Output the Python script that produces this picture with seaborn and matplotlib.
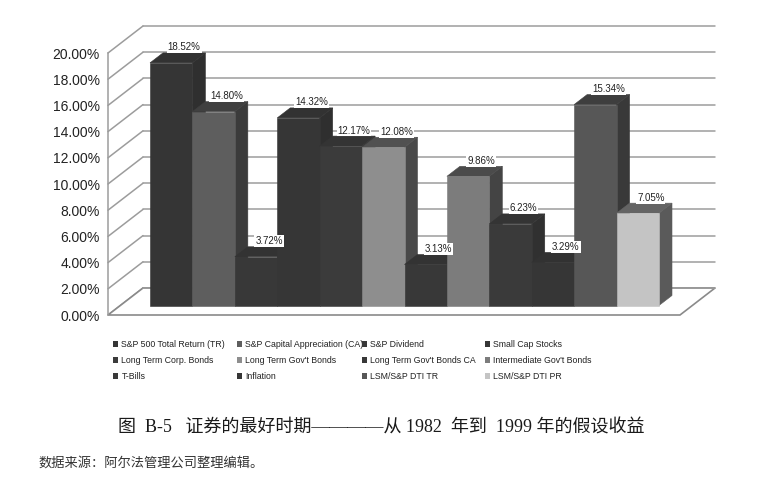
import numpy as np
import pandas as pd
import matplotlib
matplotlib.use("Agg")
import matplotlib.pyplot as plt
import matplotlib.transforms as mtrans
from matplotlib.patches import Polygon, Patch
from matplotlib import font_manager as fm
import seaborn as sns

# ---------------- data ----------------
series = [
    "S&P 500 Total Return (TR)", "S&P Capital Appreciation (CA)", "S&P Dividend",
    "Small Cap Stocks", "Long Term Corp. Bonds", "Long Term Gov't Bonds",
    "Long Term Gov't Bonds CA", "Intermediate Gov't Bonds", "T-Bills",
    "Inflation", "LSM/S&P DTI TR", "LSM/S&P DTI PR",
]
values = [18.52, 14.80, 3.72, 14.32, 12.17, 12.08, 3.13, 9.86, 6.23, 3.29, 15.34, 7.05]
colors = ["#353535", "#5e5e5e", "#383838", "#363636", "#3b3b3b", "#8e8e8e",
          "#383838", "#7c7c7c", "#3a3a3a", "#363636", "#575757", "#c4c4c4"]
yticks = [0, 2, 4, 6, 8, 10, 12, 14, 16, 18, 20]
caption = "图  B-5   证券的最好时期————从 1982  年到  1999 年的假设收益"
source = "数据来源：阿尔法管理公司整理编辑。"

# ---------------- style ----------------
sns.set_style("white")
plt.rcParams["font.family"] = ["Liberation Sans", "DejaVu Sans"]
names = {f.name for f in fm.fontManager.ttflist}
if "Liberation Sans Narrow" in names:
    leg_family, leg_size = ["Liberation Sans Narrow", "DejaVu Sans"], 7.4
else:
    leg_family, leg_size = ["Liberation Sans", "DejaVu Sans"], 6.3

W, H, DPI = 758, 490, 100
fig = plt.figure(figsize=(W / DPI, H / DPI), dpi=DPI)

# front plane (pixels)
AX_L, AX_R, AX_B, AX_T = 108, 680, 315, 53
ax = fig.add_axes([AX_L / W, 1 - AX_B / H, (AX_R - AX_L) / W, (AX_B - AX_T) / H])
ax.patch.set_visible(False)

df = pd.DataFrame({"series": series, "value": values})
sns.barplot(data=df, x="series", y="value", hue="series", order=series,
            hue_order=series, palette=dict(zip(series, colors)), width=1.0,
            saturation=1, legend=False, ax=ax)

n = len(series)
BAR_OFF = (13, 9.5)        # bar plane offset from front plane (px)
BAR_DEPTH = (13, 10)       # depth of each bar (px)
WALL_OFF = (35, 27)        # back wall offset (px)
front_left = 150 - BAR_OFF[0]
front_right = 659 - BAR_OFF[0]
pxx = (front_right - front_left) / n
pxy = (AX_B - AX_T) / 20.0
xlim0 = -0.5 - (front_left - AX_L) / pxx
xlim1 = -0.5 + (AX_R - front_left) / pxx
ax.set_xlim(xlim0, xlim1)
ax.set_ylim(0, 20)


def off(px, py):
    return ax.transData + mtrans.ScaledTranslation(px / DPI, py / DPI, fig.dpi_scale_trans)


grid_c = "#9c9c9c"
# back wall gridlines
for v in yticks:
    ax.plot([xlim0, xlim1], [v, v], transform=off(*WALL_OFF), color=grid_c,
            lw=1.1, clip_on=False, zorder=0.5)
# left wall diagonals
dxw, dyw = WALL_OFF[0] / pxx, WALL_OFF[1] / pxy
for v in yticks:
    ax.plot([xlim0, xlim0 + dxw], [v, v + dyw], color=grid_c, lw=1.1,
            clip_on=False, zorder=0.6)
# floor
floor = Polygon([(xlim0, 0), (xlim1, 0), (xlim1 + dxw, dyw), (xlim0 + dxw, dyw)],
                closed=True, facecolor="white", edgecolor="#8a8a8a", lw=1.2,
                clip_on=False, zorder=0.7)
ax.add_patch(floor)
ax.plot([xlim0, xlim1], [0, 0], transform=off(*WALL_OFF), color=grid_c,
        lw=1.1, clip_on=False, zorder=0.8)


def mix(c, base, a):
    r = np.array(matplotlib.colors.to_rgb(c))
    b = np.array(matplotlib.colors.to_rgb(base))
    return tuple(a * r + (1 - a) * b)


ddx, ddy = BAR_DEPTH[0] / pxx, BAR_DEPTH[1] / pxy
bar_tr = off(*BAR_OFF)
patches = sorted([p for p in ax.patches if p is not floor], key=lambda p: p.get_x())
for i, p in enumerate(patches):
    x0, w, h = p.get_x(), p.get_width(), p.get_height()
    fc = p.get_facecolor()
    top_c = mix(fc, "#303030", 0.35)
    side_c = mix(fc, "#2c2c2c", 0.30)
    z = 2 + 3 * i
    side = Polygon([(x0 + w, 0), (x0 + w + ddx, ddy), (x0 + w + ddx, h + ddy), (x0 + w, h)],
                   closed=True, facecolor=side_c, edgecolor=side_c, lw=0.4,
                   transform=bar_tr, clip_on=False, zorder=z)
    top = Polygon([(x0, h), (x0 + w, h), (x0 + w + ddx, h + ddy), (x0 + ddx, h + ddy)],
                  closed=True, facecolor=top_c, edgecolor=top_c, lw=0.4,
                  transform=bar_tr, clip_on=False, zorder=z + 0.5)
    ax.add_patch(side)
    ax.add_patch(top)
    p.set_transform(bar_tr)
    p.set_edgecolor(fc)
    p.set_linewidth(0.4)
    p.set_clip_on(False)
    p.set_zorder(z + 1)

# data labels
lab_tr = off(BAR_OFF[0] + 13, BAR_OFF[1] + BAR_DEPTH[1] + 0.5)
for i, v in enumerate(values):
    ax.text(i, v, f"{v:.2f}%", transform=lab_tr, ha="center", va="bottom",
            fontsize=7, color="#222222", zorder=100,
            bbox=dict(facecolor="white", edgecolor="none", pad=0.6))

# axes cosmetics
for s in ["top", "right", "bottom"]:
    ax.spines[s].set_visible(False)
ax.spines["left"].set_color(grid_c)
ax.spines["left"].set_linewidth(1.1)
ax.set_yticks(yticks)
ax.set_yticklabels([f"{v:.2f}%" for v in yticks])
ax.tick_params(axis="y", length=0, pad=6, labelsize=10, labelcolor="#222222")
ax.set_xticks([])
ax.set_xlabel("")
ax.set_ylabel("")

# legend: 4 columns x 3 rows
col_x = [113, 237, 362, 485]
top_y = 340
for c in range(4):
    idx = [c, c + 4, c + 8]
    handles = [Patch(facecolor=colors[k], edgecolor="none") for k in idx]
    labels = [series[k] for k in idx]
    fig.legend(handles, labels, loc="upper left",
               bbox_to_anchor=(col_x[c] / W, 1 - top_y / H),
               frameon=False, borderaxespad=0, borderpad=0,
               handlelength=0.55, handleheight=0.55, handletextpad=0.4,
               labelspacing=0.8, prop={"family": leg_family, "size": leg_size},
               labelcolor="#222222")

fig.text(118 / W, 1 - 428 / H, caption, ha="left", va="center", fontsize=13,
         color="#1a1a1a", family=["Liberation Serif", "Noto Sans CJK SC"])
fig.text(38 / W, 1 - 463 / H, source, ha="left", va="center", fontsize=9.5,
         color="#333333", family=["Noto Sans CJK SC", "DejaVu Sans"])

fig.savefig("out.png", dpi=DPI)
